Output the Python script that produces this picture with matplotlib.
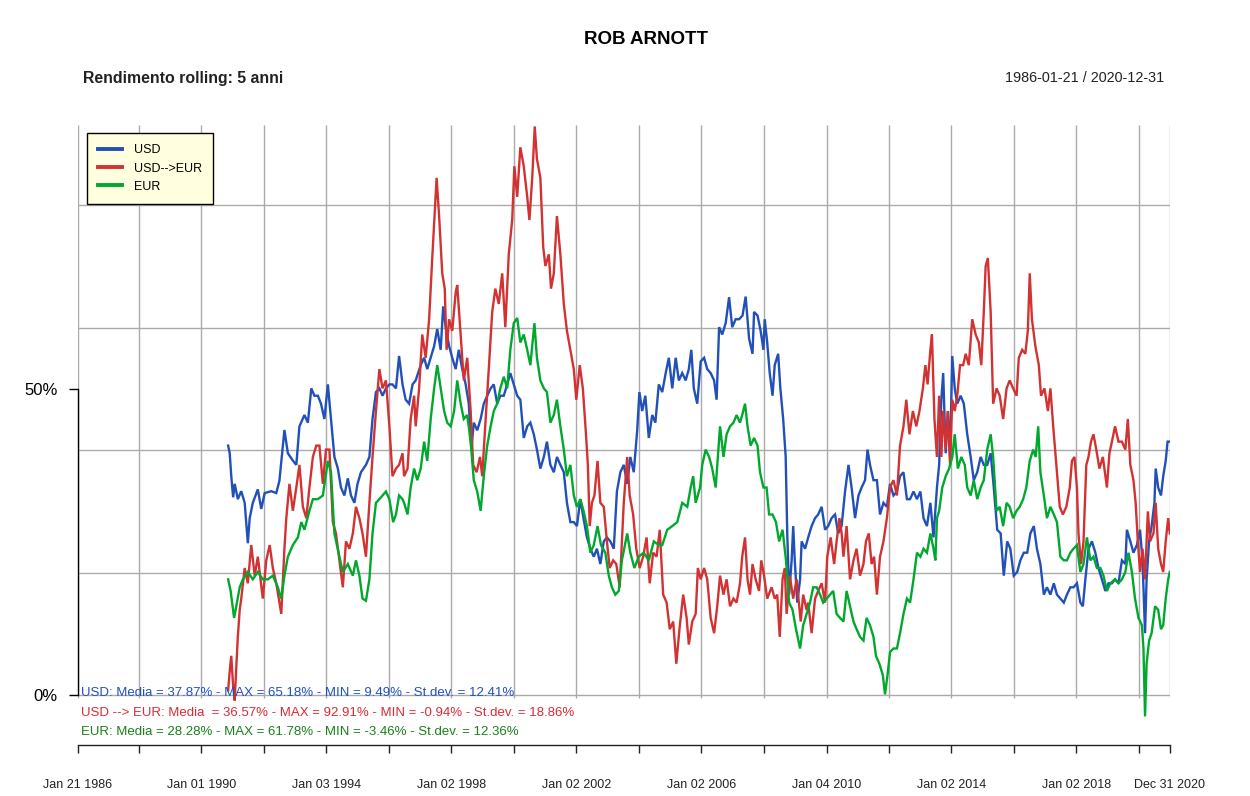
import numpy as np
import pandas as pd
import matplotlib
matplotlib.use("Agg")
import matplotlib.pyplot as plt

plt.rcParams['font.family'] = ['Liberation Sans', 'DejaVu Sans']

# ---------------- data (decimal years, rolling 5y return in %) ----------------
usd_years = [1990.86, 1990.91, 1990.96, 1991.02, 1991.07, 1991.17, 1991.28, 1991.39, 1991.49, 1991.55,
             1991.65, 1991.81, 1991.92, 1992.03, 1992.24, 1992.40, 1992.50, 1992.66, 1992.77, 1992.93,
             1993.04, 1993.14, 1993.30, 1993.41, 1993.52, 1993.62, 1993.73, 1993.83, 1993.94, 1994.05,
             1994.15, 1994.26, 1994.37, 1994.47, 1994.58, 1994.69, 1994.79, 1994.90, 1995.00, 1995.11,
             1995.27, 1995.38, 1995.48, 1995.59, 1995.70, 1995.80, 1995.91, 1996.02, 1996.12, 1996.23,
             1996.33, 1996.44, 1996.54, 1996.65, 1996.76, 1996.86, 1997.02, 1997.13, 1997.23, 1997.34,
             1997.45, 1997.55, 1997.66, 1997.74, 1997.82, 1997.93, 1998.03, 1998.14, 1998.24, 1998.35,
             1998.46, 1998.56, 1998.64, 1998.72, 1998.83, 1998.94, 1999.04, 1999.15, 1999.26, 1999.36,
             1999.47, 1999.57, 1999.68, 1999.79, 1999.89, 2000.00, 2000.11, 2000.21, 2000.32, 2000.43,
             2000.53, 2000.64, 2000.74, 2000.85, 2000.96, 2001.06, 2001.17, 2001.28, 2001.38, 2001.49,
             2001.60, 2001.70, 2001.81, 2001.92, 2002.02, 2002.13, 2002.23, 2002.34, 2002.45, 2002.56,
             2002.66, 2002.77, 2002.88, 2002.98, 2003.09, 2003.20, 2003.30, 2003.41, 2003.52, 2003.63,
             2003.73, 2003.84, 2003.95, 2004.02, 2004.11, 2004.21, 2004.32, 2004.43, 2004.53, 2004.64,
             2004.75, 2004.86, 2004.96, 2005.07, 2005.18, 2005.28, 2005.39, 2005.50, 2005.60, 2005.68,
             2005.76, 2005.87, 2005.98, 2006.09, 2006.19, 2006.30, 2006.41, 2006.49, 2006.57, 2006.67,
             2006.78, 2006.89, 2006.99, 2007.10, 2007.21, 2007.32, 2007.42, 2007.53, 2007.64, 2007.69,
             2007.80, 2007.90, 2007.99, 2008.03, 2008.11, 2008.19, 2008.28, 2008.35, 2008.46, 2008.53,
             2008.62, 2008.70, 2008.75, 2008.81, 2008.89, 2008.94, 2008.99, 2009.07, 2009.16, 2009.21,
             2009.32, 2009.42, 2009.53, 2009.64, 2009.74, 2009.85, 2009.96, 2010.06, 2010.17, 2010.28,
             2010.38, 2010.49, 2010.60, 2010.71, 2010.81, 2010.92, 2011.03, 2011.13, 2011.24, 2011.32,
             2011.40, 2011.51, 2011.62, 2011.72, 2011.83, 2011.94, 2012.04, 2012.15, 2012.26, 2012.36,
             2012.47, 2012.58, 2012.68, 2012.79, 2012.90, 2013.01, 2013.11, 2013.22, 2013.33, 2013.43,
             2013.54, 2013.61, 2013.68, 2013.74, 2013.82, 2013.89, 2013.96, 2014.03, 2014.11, 2014.19,
             2014.30, 2014.40, 2014.51, 2014.62, 2014.72, 2014.83, 2014.94, 2015.04, 2015.15, 2015.26,
             2015.36, 2015.47, 2015.58, 2015.68, 2015.79, 2015.89, 2016.00, 2016.11, 2016.21, 2016.32,
             2016.43, 2016.53, 2016.64, 2016.74, 2016.85, 2016.96, 2017.06, 2017.17, 2017.28, 2017.38,
             2017.49, 2017.60, 2017.70, 2017.81, 2017.91, 2018.02, 2018.13, 2018.21, 2018.29, 2018.39,
             2018.50, 2018.61, 2018.71, 2018.82, 2018.93, 2019.03, 2019.14, 2019.24, 2019.35, 2019.46,
             2019.57, 2019.62, 2019.73, 2019.83, 2019.94, 2020.04, 2020.12, 2020.20, 2020.25, 2020.33,
             2020.41, 2020.50, 2020.54, 2020.62, 2020.71, 2020.78, 2020.86, 2020.92, 2020.99]
usd_vals = [40.75, 39.5, 35.75, 32.3, 34.5, 32, 33.3, 31.4, 24.8, 28.9,
            31.4, 33.6, 30.4, 33, 33.3, 33, 35, 43.3, 39.5, 38.3,
            37.6, 43.9, 45.75, 44.5, 50.1, 48.9, 48.9, 47.6, 45.1, 50.75,
            45.1, 38.9, 37, 33.9, 32.6, 35.4, 32.6, 31.4, 34.5, 36.4,
            37.6, 38.9, 45.1, 49.5, 50.1, 48.9, 50.1, 50.75, 50.75, 50.1,
            55.4, 50.75, 48.25, 47.6, 50.75, 51.4, 53.9, 55.1, 53.25, 55.1,
            57, 59.8, 56.4, 63.5, 60.1, 57, 55.1, 53.25, 56.4, 53.25,
            50.75, 47.6, 40.1, 44.5, 43.25, 45.1, 47.6, 48.9, 50.1, 50.75,
            47.6, 48.9, 48.9, 50.75, 52.6, 50.75, 48.9, 48.25, 42, 43.9,
            44.5, 42.6, 40.1, 37, 38.9, 41.4, 37.6, 36.4, 38.9, 37.6,
            36.4, 31.4, 28.25, 28.25, 27.6, 32, 28.9, 25.75, 23.9, 22.6,
            23.9, 21.4, 25.1, 25.75, 25.1, 23.9, 33.25, 36.4, 37.6, 34.5,
            38.9, 36.4, 43.25, 49.5, 46.4, 48.9, 42, 45.75, 44.5, 50.75,
            49.5, 52.6, 55.1, 50.1, 55.1, 51.4, 52.6, 51.4, 53.25, 56.4,
            50.1, 47.6, 54.5, 55.1, 53.25, 52.6, 51.4, 48.25, 60.1, 58.9,
            60.75, 65, 60.1, 61.4, 61.4, 62, 65.1, 58.25, 55.75, 62.6,
            62, 59.5, 56.4, 61.4, 57.6, 52.6, 48.9, 53.9, 55.75, 50.1,
            45.1, 38.9, 26.4, 16.4, 22, 27.6, 22, 15.1, 18.9, 25.1,
            23.9, 25.75, 27.6, 28.9, 29.5, 30.75, 27, 27.6, 28.9, 29.5,
            26.4, 27.6, 33.25, 37.6, 33.9, 28.9, 32.6, 33.9, 35.1, 40.1,
            37.6, 35.1, 35.1, 29.5, 31.4, 30.75, 34.5, 32.6, 33.25, 35.75,
            36.4, 32, 32, 33.25, 32, 33.25, 28.9, 27.6, 31.4, 25.75,
            33.9, 37.6, 48.25, 52.6, 39.5, 46.4, 38.9, 55.4, 50.1, 47.6,
            48.9, 47.6, 42.6, 38.9, 35.1, 36.4, 38.9, 37.6, 37.6, 39.5,
            33.9, 27, 26.4, 19.5, 25.1, 23.9, 19.5, 20.1, 22, 23.25,
            23.25, 26.4, 27.6, 23.9, 21.4, 16.4, 17.6, 16.4, 18.25, 16.4,
            15.75, 15.1, 16.4, 17.6, 17.6, 18.25, 15.1, 14.5, 18.9, 23.9,
            25.1, 23.25, 20.75, 18.9, 17, 18.25, 18.25, 18.9, 18.25, 22,
            21.4, 27, 25.1, 23.25, 24.5, 27, 22, 10.1, 18.9, 25.1,
            27.6, 31.4, 37, 33.9, 32.6, 35.75, 38.25, 41.4, 41.4]

usdeur_years = [1990.86, 1990.91, 1990.96, 1991.02, 1991.07, 1991.12, 1991.17, 1991.23, 1991.28, 1991.39,
                1991.49, 1991.60, 1991.71, 1991.81, 1991.97, 1992.08, 1992.19, 1992.29, 1992.40, 1992.50,
                1992.56, 1992.66, 1992.72, 1992.82, 1992.93, 1993.04, 1993.14, 1993.25, 1993.36, 1993.46,
                1993.57, 1993.68, 1993.78, 1993.89, 1993.99, 1994.10, 1994.21, 1994.31, 1994.42, 1994.53,
                1994.63, 1994.74, 1994.85, 1994.95, 1995.06, 1995.16, 1995.27, 1995.38, 1995.48, 1995.59,
                1995.70, 1995.80, 1995.91, 1996.02, 1996.12, 1996.23, 1996.33, 1996.44, 1996.49, 1996.60,
                1996.70, 1996.81, 1996.86, 1996.97, 1997.07, 1997.18, 1997.29, 1997.39, 1997.47, 1997.53,
                1997.61, 1997.71, 1997.79, 1997.85, 1997.93, 1998.03, 1998.14, 1998.19, 1998.30, 1998.40,
                1998.51, 1998.62, 1998.70, 1998.81, 1998.92, 1998.99, 1999.10, 1999.20, 1999.31, 1999.41,
                1999.52, 1999.63, 1999.73, 1999.84, 1999.95, 2000.02, 2000.11, 2000.21, 2000.32, 2000.43,
                2000.50, 2000.59, 2000.67, 2000.74, 2000.85, 2000.94, 2001.01, 2001.12, 2001.19, 2001.28,
                2001.38, 2001.49, 2001.60, 2001.70, 2001.81, 2001.92, 2002.00, 2002.11, 2002.21, 2002.31,
                2002.37, 2002.43, 2002.50, 2002.58, 2002.68, 2002.77, 2002.88, 2002.98, 2003.07, 2003.18,
                2003.28, 2003.39, 2003.52, 2003.63, 2003.71, 2003.82, 2003.92, 2004.03, 2004.14, 2004.25,
                2004.35, 2004.46, 2004.57, 2004.67, 2004.78, 2004.89, 2004.99, 2005.10, 2005.20, 2005.30,
                2005.42, 2005.53, 2005.60, 2005.71, 2005.82, 2005.89, 2005.98, 2006.09, 2006.19, 2006.30,
                2006.41, 2006.51, 2006.60, 2006.71, 2006.81, 2006.92, 2007.03, 2007.13, 2007.24, 2007.31,
                2007.40, 2007.48, 2007.56, 2007.64, 2007.74, 2007.85, 2007.92, 2008.01, 2008.11, 2008.25,
                2008.35, 2008.43, 2008.51, 2008.60, 2008.67, 2008.73, 2008.83, 2008.94, 2009.05, 2009.18,
                2009.26, 2009.37, 2009.42, 2009.53, 2009.64, 2009.74, 2009.85, 2009.96, 2010.03, 2010.14,
                2010.25, 2010.33, 2010.42, 2010.49, 2010.55, 2010.65, 2010.76, 2010.87, 2010.97, 2011.08,
                2011.19, 2011.27, 2011.36, 2011.45, 2011.53, 2011.62, 2011.72, 2011.83, 2011.94, 2012.04,
                2012.15, 2012.26, 2012.36, 2012.47, 2012.56, 2012.66, 2012.77, 2012.88, 2012.98, 2013.09,
                2013.17, 2013.24, 2013.33, 2013.38, 2013.46, 2013.54, 2013.61, 2013.68, 2013.74, 2013.82,
                2013.89, 2013.96, 2014.03, 2014.11, 2014.19, 2014.28, 2014.38, 2014.46, 2014.56, 2014.67,
                2014.78, 2014.88, 2014.96, 2015.04, 2015.10, 2015.17, 2015.26, 2015.34, 2015.45, 2015.55,
                2015.66, 2015.77, 2015.87, 2015.98, 2016.09, 2016.16, 2016.27, 2016.37, 2016.45, 2016.51,
                2016.58, 2016.69, 2016.80, 2016.87, 2016.98, 2017.09, 2017.17, 2017.26, 2017.36, 2017.47,
                2017.57, 2017.68, 2017.79, 2017.86, 2017.94, 2018.02, 2018.07, 2018.15, 2018.23, 2018.32,
                2018.39, 2018.47, 2018.55, 2018.64, 2018.74, 2018.85, 2018.98, 2019.06, 2019.14, 2019.24,
                2019.35, 2019.46, 2019.57, 2019.65, 2019.73, 2019.83, 2019.90, 2019.97, 2020.04, 2020.12,
                2020.20, 2020.29, 2020.36, 2020.47, 2020.54, 2020.62, 2020.71, 2020.78, 2020.86, 2020.94,
                2020.99]
usdeur_vals = [0.75, 3.9, 6.4, 1.4, -0.9, 4.5, 9.5, 13.9, 15.75, 20.75,
               18.25, 24.5, 19.5, 22.6, 15.75, 22, 24.5, 20.75, 18.25, 15.1,
               13.25, 23.9, 28.9, 34.5, 30.1, 33.9, 37.6, 30.75, 28.9, 33.9,
               38.9, 40.75, 40.75, 34.5, 40.1, 40.1, 28.25, 26.4, 22, 17.6,
               25.1, 23.9, 26.4, 30.75, 28.9, 26.4, 22.6, 31.4, 38.9, 46.4,
               53.25, 50.1, 51.4, 43.9, 35.75, 37, 37.6, 39.5, 35.75, 37,
               45.1, 48.9, 43.9, 50.1, 58.9, 55.1, 61.4, 71.4, 78.9, 84.5,
               78.25, 68.9, 66.4, 56.4, 61.4, 59.5, 65.75, 67, 58.9, 51.4,
               55.1, 46.4, 37.6, 36.4, 38.9, 35.75, 45.1, 53.25, 62.6, 66.4,
               63.9, 68.9, 60.1, 72, 77.6, 86.4, 81.4, 89.5, 86.4, 81.4,
               77.6, 84.5, 92.9, 87.6, 84.5, 73.25, 70.1, 72, 66.4, 68.9,
               78.25, 72, 63.9, 59.5, 56.4, 53.25, 48.25, 53.9, 50.1, 42.6,
               37.6, 27.6, 31.4, 32.6, 38.25, 31.4, 30.75, 25.1, 20.75, 22,
               21.4, 17.6, 31.4, 38.9, 32.6, 29.5, 23.9, 20.75, 22.6, 25.75,
               18.25, 23.25, 22.6, 27, 16.4, 15.1, 10.75, 12, 5.1, 10.75,
               16.4, 12.6, 8.25, 12, 13.25, 20.75, 18.9, 20.75, 18.9, 12.6,
               10.1, 14.5, 19.5, 16.4, 18.9, 14.5, 15.75, 15.1, 18.25, 22.6,
               25.75, 18.9, 16.4, 21.4, 18.9, 17, 22, 19.5, 15.75, 17.6,
               15.75, 16.4, 9.5, 18.9, 20.75, 13.25, 19.5, 15.75, 18.9, 12,
               16.4, 13.9, 15.1, 10.1, 15.75, 17, 18.25, 15.1, 22.6, 25.75,
               21.4, 25.1, 28.9, 26.4, 22.6, 27.6, 18.9, 22, 23.9, 19.5,
               21.4, 25.1, 26.4, 21.4, 22.6, 16.4, 22.6, 25.1, 28.9, 33.9,
               35.1, 32.6, 40.75, 43.9, 48.25, 42.6, 46.4, 43.9, 46.4, 50.1,
               53.9, 50.75, 56.4, 58.9, 45.1, 38.9, 48.9, 38.9, 46.4, 40.1,
               46.4, 37.6, 48.25, 46.4, 48.9, 53.9, 53.9, 55.75, 53.9, 61.4,
               58.9, 57.6, 53.9, 62.6, 70.1, 71.4, 62.6, 47.6, 50.1, 48.9,
               45.1, 50.1, 51.4, 50.1, 48.9, 55.1, 56.4, 55.75, 59.6, 68.9,
               61.4, 57, 53.9, 48.9, 50.1, 46.4, 50.1, 43.9, 37.6, 30.75,
               29.5, 30.75, 33.9, 38.25, 38.9, 33.9, 26.4, 21.4, 25.1, 37.6,
               38.9, 41.4, 42.6, 40.1, 37, 38.9, 33.9, 39.5, 41.4, 43.9,
               41.4, 41.4, 40.1, 45.1, 37.6, 35.1, 31.4, 25.1, 20.1, 23.9,
               18.9, 30, 25.1, 26.4, 31.4, 23.9, 21.4, 20.1, 25.1, 28.9,
               26.4]

eur_years = [1990.86, 1990.94, 1991.05, 1991.12, 1991.23, 1991.33, 1991.49, 1991.65, 1991.81, 1991.97,
             1992.13, 1992.29, 1992.45, 1992.56, 1992.66, 1992.77, 1992.93, 1993.09, 1993.20, 1993.30,
             1993.46, 1993.57, 1993.73, 1993.89, 1994.05, 1994.15, 1994.26, 1994.42, 1994.53, 1994.69,
             1994.85, 1994.95, 1995.06, 1995.16, 1995.27, 1995.38, 1995.48, 1995.59, 1995.70, 1995.80,
             1995.91, 1996.02, 1996.14, 1996.23, 1996.33, 1996.44, 1996.49, 1996.60, 1996.70, 1996.81,
             1996.91, 1997.02, 1997.13, 1997.23, 1997.34, 1997.45, 1997.55, 1997.66, 1997.77, 1997.87,
             1997.98, 1998.09, 1998.19, 1998.30, 1998.40, 1998.51, 1998.62, 1998.72, 1998.83, 1998.94,
             1999.04, 1999.15, 1999.26, 1999.36, 1999.47, 1999.57, 1999.68, 1999.79, 1999.89, 2000.00,
             2000.11, 2000.21, 2000.32, 2000.43, 2000.53, 2000.66, 2000.74, 2000.85, 2000.96, 2001.06,
             2001.17, 2001.28, 2001.38, 2001.49, 2001.60, 2001.70, 2001.81, 2001.92, 2002.02, 2002.13,
             2002.23, 2002.34, 2002.45, 2002.56, 2002.68, 2002.79, 2002.93, 2003.04, 2003.14, 2003.25,
             2003.36, 2003.46, 2003.63, 2003.73, 2003.86, 2004.00, 2004.16, 2004.32, 2004.48, 2004.64,
             2004.75, 2004.91, 2005.07, 2005.23, 2005.39, 2005.55, 2005.66, 2005.74, 2005.82, 2005.96,
             2006.03, 2006.14, 2006.25, 2006.35, 2006.46, 2006.53, 2006.60, 2006.71, 2006.81, 2006.92,
             2007.03, 2007.13, 2007.24, 2007.31, 2007.40, 2007.48, 2007.58, 2007.69, 2007.80, 2007.88,
             2007.99, 2008.09, 2008.17, 2008.28, 2008.39, 2008.49, 2008.60, 2008.71, 2008.81, 2008.92,
             2009.03, 2009.16, 2009.26, 2009.37, 2009.48, 2009.58, 2009.69, 2009.80, 2009.90, 2010.01,
             2010.12, 2010.22, 2010.33, 2010.44, 2010.55, 2010.65, 2010.76, 2010.87, 2010.97, 2011.08,
             2011.19, 2011.29, 2011.40, 2011.51, 2011.59, 2011.70, 2011.81, 2011.88, 2011.96, 2012.04,
             2012.15, 2012.26, 2012.36, 2012.47, 2012.58, 2012.68, 2012.79, 2012.90, 2013.01, 2013.11,
             2013.22, 2013.33, 2013.43, 2013.49, 2013.54, 2013.61, 2013.71, 2013.82, 2013.93, 2014.03,
             2014.11, 2014.21, 2014.32, 2014.43, 2014.51, 2014.62, 2014.72, 2014.83, 2014.94, 2015.04,
             2015.15, 2015.26, 2015.34, 2015.45, 2015.55, 2015.66, 2015.77, 2015.87, 2015.98, 2016.09,
             2016.19, 2016.30, 2016.40, 2016.51, 2016.62, 2016.70, 2016.78, 2016.85, 2016.96, 2017.06,
             2017.17, 2017.28, 2017.38, 2017.49, 2017.60, 2017.70, 2017.81, 2017.91, 2018.02, 2018.13,
             2018.23, 2018.34, 2018.45, 2018.55, 2018.66, 2018.77, 2018.87, 2018.98, 2019.09, 2019.24,
             2019.35, 2019.46, 2019.57, 2019.67, 2019.78, 2019.88, 2019.99, 2020.10, 2020.15, 2020.20,
             2020.25, 2020.33, 2020.41, 2020.52, 2020.62, 2020.71, 2020.78, 2020.86, 2020.94, 2020.99]
eur_vals = [18.9, 17, 12.6, 14.5, 17.6, 18.9, 20.1, 18.9, 20.1, 18.9,
            18.9, 19.5, 17.6, 15.75, 19.5, 22.6, 24.5, 25.75, 28.25, 27,
            30.1, 32, 32, 32.6, 38.25, 36.4, 26.4, 22.6, 20.1, 21.4,
            19.5, 22, 19.5, 15.75, 15.4, 18.9, 26.4, 31.4, 32, 32.6,
            33.25, 32, 28.25, 29.5, 32.6, 32, 31.4, 29.5, 33.9, 37,
            35.1, 37, 41.4, 38.25, 45.1, 50.1, 53.9, 50.1, 46.4, 44.5,
            43.9, 46.4, 51.4, 47.6, 45.1, 45.75, 41.4, 35.1, 33.25, 30.1,
            35.75, 40.75, 43.9, 46.4, 47.6, 50.1, 52, 50.1, 56.4, 60.75,
            61.6, 57.6, 58.9, 56.4, 53.9, 60.75, 55.1, 51.4, 50.1, 49.5,
            44.5, 45.75, 48.25, 43.9, 40.1, 35.75, 37.6, 32.6, 30.75, 32,
            30.1, 27.6, 23.25, 24.5, 27.6, 24.5, 23.25, 19.5, 17.6, 16.4,
            17, 22, 26.4, 23.25, 20.75, 22.6, 23.25, 22, 25.1, 24.5,
            24.5, 27, 27.6, 28.25, 31.4, 30.75, 33.9, 35.75, 31.4, 33.9,
            37.6, 40.1, 38.9, 37, 33.9, 38.9, 43.9, 38.9, 42.6, 43.9,
            44.5, 45.75, 44.5, 45.75, 47.6, 43.9, 40.75, 42, 40.75, 36.4,
            33.9, 33.9, 29.5, 29.5, 28.25, 25.1, 27, 22, 15.1, 13.9,
            10.75, 7.6, 11.4, 13.25, 15.1, 17.6, 17.6, 16.4, 15.1, 15.75,
            16.4, 17, 13.25, 12.6, 12, 17, 14.5, 12, 10.75, 9.5,
            8.9, 12.6, 11.4, 9.5, 6.4, 5.1, 3.25, 0.1, 3.25, 7,
            7.6, 7.6, 10.1, 13.25, 15.75, 15.1, 18.9, 23.25, 22.6, 23.9,
            23.25, 26.4, 23.9, 22, 28.9, 30.1, 33.9, 35.75, 37, 38.9,
            42.6, 37, 38.9, 37.6, 33.9, 32.6, 35.1, 32, 33.9, 35.1,
            40.1, 42.6, 38.9, 30.1, 30.75, 27.6, 31.4, 30.75, 28.9, 30.1,
            30.75, 32, 33.9, 38.25, 40.1, 38.9, 43.9, 36.4, 32.6, 28.9,
            30.75, 29.5, 28.25, 22.6, 22, 22, 23.25, 23.9, 24.5, 20.1,
            21.4, 25.75, 22, 22.6, 20.75, 20.75, 19.5, 17, 18.25, 18.9,
            18.25, 18.9, 20.1, 23.25, 20.1, 15.75, 12.6, 11.4, 7.6, -3.5,
            5.1, 8.9, 10.1, 14.5, 13.9, 10.75, 11.4, 15.75, 18.9, 20.1]

series_names = ["USD", "USD-->EUR", "EUR"]
line_colors = ["#2150b8", "#d23232", "#00a82d"]
text_colors = ["#2150c0", "#dd2a33", "#1a801a"]
stats_lines = ["USD: Media = 37.87% - MAX = 65.18% - MIN = 9.49% - St.dev. = 12.41%",
               "USD --> EUR: Media  = 36.57% - MAX = 92.91% - MIN = -0.94% - St.dev. = 18.86%",
               "EUR: Media = 28.28% - MAX = 61.78% - MIN = -3.46% - St.dev. = 12.36%"]

start_date = "1986-01-21"
end_date = "2020-12-31"
tick_dates = ["1986-01-21", "1988-01-04", "1990-01-01", "1992-01-02", "1994-01-03", "1996-01-02",
              "1998-01-02", "2000-01-03", "2002-01-02", "2004-01-02", "2006-01-02", "2008-01-02",
              "2010-01-04", "2012-01-02", "2014-01-02", "2016-01-04", "2018-01-02", "2020-01-02",
              "2020-12-31"]
labeled_ticks = ["1986-01-21", "1990-01-01", "1994-01-03", "1998-01-02", "2002-01-02", "2006-01-02",
                 "2010-01-04", "2014-01-02", "2018-01-02", "2020-12-31"]
hgrid_vals = [0, 20, 40, 60, 80]
ytick_vals = [0, 50]
ytick_labels = ["0%", "50%"]


def to_dates(years):
    years = np.asarray(years, dtype=float)
    out = []
    for y in years:
        yi = int(np.floor(y))
        s = pd.Timestamp(yi, 1, 1)
        e = pd.Timestamp(yi + 1, 1, 1)
        out.append(s + (e - s) * (y - yi))
    return pd.DatetimeIndex(out)


W, H = 1250, 796
fig = plt.figure(figsize=(W / 100, H / 100), dpi=100)
ax_left, ax_right = 78, 1170
ax_top, ax_bottom = 125, 745
ax = fig.add_axes([ax_left / W, 1 - ax_bottom / H, (ax_right - ax_left) / W, (ax_bottom - ax_top) / H])

px_per_pct = (695 - 389) / 50.0
y_lo = -(ax_bottom - 695) / px_per_pct
y_hi = (695 - ax_top) / px_per_pct
ax.set_ylim(y_lo, y_hi)
x0, x1 = pd.Timestamp(start_date), pd.Timestamp(end_date)
ax.set_xlim(x0, x1)

grid_color = "#aaaaaa"
td = pd.to_datetime(tick_dates)
for v in hgrid_vals:
    ax.plot([x0, x1], [v, v], color=grid_color, lw=1.0, zorder=1, solid_capstyle='butt')
ax.vlines(td, -0.5, y_hi, color=grid_color, lw=1.0, zorder=1)

for yrs, vals, name, col in [(usd_years, usd_vals, series_names[0], line_colors[0]),
                             (usdeur_years, usdeur_vals, series_names[1], line_colors[1]),
                             (eur_years, eur_vals, series_names[2], line_colors[2])]:
    ax.plot(to_dates(yrs), vals, color=col, lw=1.7, label=name, zorder=3, solid_joinstyle='miter')

# axes styling
for s in ["top", "right"]:
    ax.spines[s].set_visible(False)
ax.spines["left"].set_bounds(0, 50)
ax.spines["left"].set_color("black")
ax.spines["left"].set_linewidth(1.0)
ax.spines["bottom"].set_color("#222222")
ax.spines["bottom"].set_linewidth(1.0)
ax.set_yticks(ytick_vals)
ax.set_yticklabels(ytick_labels, fontsize=12)
ax.tick_params(axis='y', length=6.5, width=1.0, pad=8, colors='black')

ax.set_xticks(td)
lab = [pd.Timestamp(d).strftime("%b %d %Y") if d in labeled_ticks else "" for d in tick_dates]
ax.set_xticklabels(lab, fontsize=9)
ax.tick_params(axis='x', length=5.5, width=1.0, pad=19, colors='#222222')
ax.set_facecolor("white")

leg = ax.legend(loc="upper left", bbox_to_anchor=(87 / W, 1 - 133 / H), bbox_transform=fig.transFigure,
                fontsize=9, frameon=True, fancybox=False, framealpha=1, facecolor="#ffffe0",
                edgecolor="black", handlelength=1.9, handletextpad=0.95, labelspacing=0.5,
                borderpad=0.9, borderaxespad=0)
leg.get_frame().set_linewidth(1.0)
for line in leg.get_lines():
    line.set_linewidth(2.8)

# titles
fig.text(646 / W, 1 - 40 / H, "ROB ARNOTT", ha="center", va="center", fontsize=13.5, fontweight="bold")
fig.text(83 / W, 1 - 78 / H, "Rendimento rolling: 5 anni", ha="left", va="center", fontsize=11.4,
         fontweight="bold", color="#222222")
fig.text(1164 / W, 1 - 78 / H, f"{start_date} / {end_date}", ha="right", va="center", fontsize=10.4,
         color="#222222")

for i, (txt, col) in enumerate(zip(stats_lines, text_colors)):
    fig.text(81 / W, 1 - (693 + 19.5 * i) / H, txt, ha="left", va="center", fontsize=9.5, color=col)

fig.savefig("out.png", dpi=100)
